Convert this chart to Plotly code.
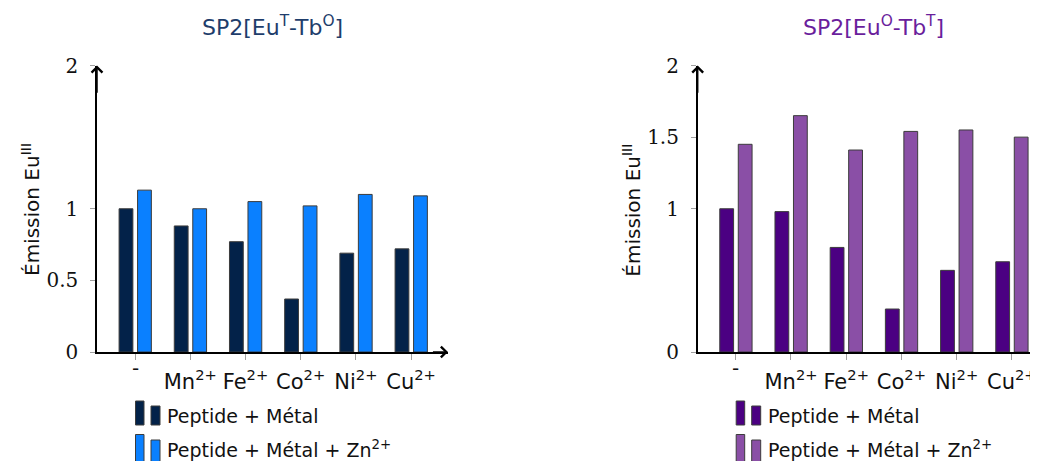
import plotly.graph_objects as go

# ---------------- data ----------------
categories = ["-", "Mn<sup>2+</sup>", "Fe<sup>2+</sup>", "Co<sup>2+</sup>", "Ni<sup>2+</sup>", "Cu<sup>2+</sup>"]
left_metal = [1.00, 0.88, 0.77, 0.37, 0.69, 0.72]
left_metal_zn = [1.13, 1.00, 1.05, 1.02, 1.10, 1.09]
right_metal = [1.00, 0.98, 0.73, 0.30, 0.57, 0.63]
right_metal_zn = [1.45, 1.65, 1.41, 1.54, 1.55, 1.50]
left_yticks = [0, 0.5, 1, 2]
right_yticks = [0, 1, 1.5, 2]
series_names = ["Peptide + Métal", "Peptide + Métal + Zn<sup>2+</sup>"]
titles = ["SP2[Eu<sup>T</sup>-Tb<sup>O</sup>]", "SP2[Eu<sup>O</sup>-Tb<sup>T</sup>]"]
y_title = "Émission Eu<sup>III</sup>"

# ---------------- style ----------------
W, H = 1038, 461
OFF = 8  # page offset of the figure inside the browser window
SANS = "'DejaVu Sans', sans-serif"
SERIF = "'DejaVu Serif', serif"
left_colors = ["#032249", "#0A80FF"]
right_colors = ["#4B0082", "#8A4FA6"]
title_colors = ["#1E3D6B", "#6A1E9C"]
outline = "#3c3c3c"
tick_gray = "#a0a0a0"
TXT = "#111111"
CAT_PX = 55.2

def px(x):
    return (x - OFF) / W

def py(y):
    return 1 - (y - OFF) / H

xs = list(range(len(categories)))
tick_text = [""] + categories[1:]

fig = go.Figure()

panels = [
    dict(xa="x", ya="y", vals=[left_metal, left_metal_zn], colors=left_colors,
         left=97.0, right=448.0, yt=left_yticks, title=titles[0], tcol=title_colors[0],
         arrow_x=True),
    dict(xa="x2", ya="y2", vals=[right_metal, right_metal_zn], colors=right_colors,
         left=697.7, right=W + OFF, yt=right_yticks, title=titles[1], tcol=title_colors[1],
         arrow_x=False),
]
for p in panels:
    p["xrange"] = [-0.69, -0.69 + (p["right"] - p["left"]) / CAT_PX]

offsets = [-0.29, 0.045]
bar_w = 0.25

annotations = []
shapes = []

def fmt(v):
    return ("%g" % v)

for p in panels:
    for s in range(2):
        fig.add_trace(go.Bar(
            x=xs, y=p["vals"][s], width=bar_w, offset=offsets[s],
            marker=dict(color=p["colors"][s], line=dict(color=outline, width=1)),
            xaxis=p["xa"], yaxis=p["ya"], showlegend=False, name=series_names[s],
        ))

    ax0 = p["left"]
    # title
    annotations.append(dict(text=p["title"], xref="paper", yref="paper",
                            x=px(ax0 + 175.5), y=py(26), xanchor="center", yanchor="middle",
                            showarrow=False, font=dict(family=SANS, size=22, color=p["tcol"])))
    # y title
    annotations.append(dict(text=y_title, xref="paper", yref="paper", textangle=-90,
                            x=px(ax0 - 66), y=py(210), xanchor="center", yanchor="middle",
                            showarrow=False, font=dict(family=SANS, size=20, color=TXT)))
    # first category label (short dash sits higher)
    annotations.append(dict(text=categories[0], xref=p["xa"], yref=p["ya"], x=0, y=0,
                            yshift=-16, xanchor="center", yanchor="middle", showarrow=False,
                            font=dict(family=SANS, size=20, color=TXT)))
    # y axis arrow head
    annotations.append(dict(text="", xref=p["xa"], yref=p["ya"], axref=p["xa"], ayref=p["ya"],
                            x=p["xrange"][0], y=2, ax=p["xrange"][0], ay=1.8,
                            showarrow=True, arrowhead=4, arrowsize=1.4, arrowwidth=1.5,
                            arrowcolor="black", standoff=0, startstandoff=0))
    if p["arrow_x"]:
        annotations.append(dict(text="", xref=p["xa"], yref=p["ya"], axref=p["xa"], ayref=p["ya"],
                                x=p["xrange"][1], y=0, ax=p["xrange"][1] - 0.3, ay=0,
                                showarrow=True, arrowhead=4, arrowsize=1.4, arrowwidth=1.5,
                                arrowcolor="black", standoff=0, startstandoff=0))
    # legend (manual, two bar icons per entry)
    for s, (ytopA, ytopB, ybot, ytext) in enumerate([(401, 406, 425, 416), (434.5, 440, 475, 449)]):
        shapes.append(dict(type="rect", xref="paper", yref="paper",
                           x0=px(ax0 + 38.5), x1=px(ax0 + 47), y0=py(ybot), y1=py(ytopA),
                           fillcolor=p["colors"][s], line=dict(color=outline, width=1)))
        shapes.append(dict(type="rect", xref="paper", yref="paper",
                           x0=px(ax0 + 54), x1=px(ax0 + 63), y0=py(ybot), y1=py(ytopB),
                           fillcolor=p["colors"][s], line=dict(color=outline, width=1)))
        annotations.append(dict(text=series_names[s], xref="paper", yref="paper",
                                x=px(ax0 + 68), y=py(ytext), xanchor="left", yanchor="middle",
                                showarrow=False, font=dict(family=SANS, size=19, color=TXT)))

y_dom = [py(352), py(65.5)]

def xaxis_cfg(p, anchor):
    return dict(domain=[px(p["left"]), min(1.0, px(p["right"]))], range=p["xrange"], anchor=anchor,
                tickmode="array", tickvals=xs, ticktext=tick_text,
                ticks="outside", ticklen=6, tickcolor=tick_gray, tickwidth=1,
                showline=True, linecolor="black", linewidth=1.5, automargin=False,
                showgrid=False, zeroline=False, ticklabelstandoff=4,
                tickfont=dict(family=SANS, size=21, color=TXT))

def yaxis_cfg(p, anchor):
    return dict(domain=y_dom, range=[0, 2.0001], anchor=anchor,
                tickmode="array", tickvals=p["yt"], ticktext=[fmt(v) for v in p["yt"]],
                ticks="outside", ticklen=5, tickcolor=tick_gray, tickwidth=1,
                showline=True, linecolor="black", linewidth=1.5, automargin=False,
                showgrid=False, zeroline=False, ticklabelstandoff=8,
                tickfont=dict(family=SERIF, size=20, color=TXT))

fig.update_layout(
    width=W, height=H, autosize=False,
    margin=dict(l=0, r=0, t=0, b=0, pad=0, autoexpand=False),
    paper_bgcolor="white", plot_bgcolor="white",
    barmode="overlay",
    xaxis=xaxis_cfg(panels[0], "y"),
    yaxis=yaxis_cfg(panels[0], "x"),
    xaxis2=xaxis_cfg(panels[1], "y2"),
    yaxis2=yaxis_cfg(panels[1], "x2"),
    annotations=annotations,
    shapes=shapes,
    showlegend=False,
)

fig.write_html("out.html")
